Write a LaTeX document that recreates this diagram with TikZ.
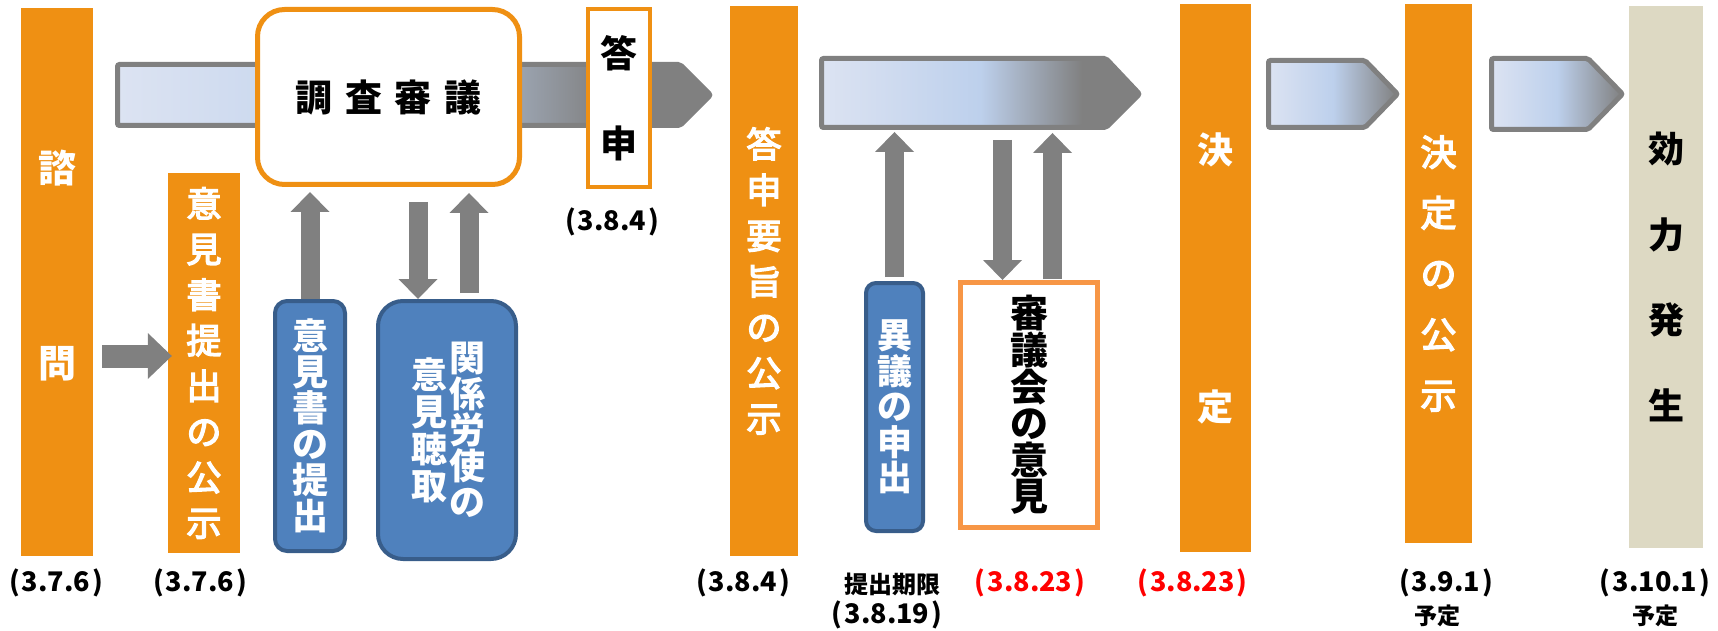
\documentclass[tikz,border=0pt]{standalone}
\usepackage{fontspec}
\setmainfont{Noto Sans CJK JP}
\newfontfamily\jpmid[FakeBold=4]{Noto Sans CJK JP}
\usetikzlibrary{arrows.meta}

\definecolor{barorange}{RGB}{239,144,19}
\definecolor{lightorange}{RGB}{247,150,70}
\definecolor{boxblue}{RGB}{79,129,189}
\definecolor{boxblueline}{RGB}{56,93,138}
\definecolor{arrowgray}{RGB}{128,128,128}
\definecolor{beige}{RGB}{221,217,195}
\definecolor{flowlight}{RGB}{220,227,242}
\definecolor{flowblue}{RGB}{189,208,236}
\definecolor{datered}{RGB}{255,0,0}

\pgfdeclarehorizontalshading{flowlong}{100bp}{color(0bp)=(flowlight); color(25bp)=(flowlight); color(50bp)=(flowblue); color(66bp)=(arrowgray); color(100bp)=(arrowgray)}
\pgfdeclarehorizontalshading{flowshort}{100bp}{color(0bp)=(flowlight); color(25bp)=(flowlight); color(50bp)=(flowblue); color(75bp)=(arrowgray); color(100bp)=(arrowgray)}

\newcommand{\fsz}[2]{\fontsize{#1}{#2}\selectfont\lineskiplimit=-100pt}
\newcommand{\dt}[1]{(\kern2pt#1\kern2pt)}

\begin{document}
\begin{tikzpicture}
[x=1pt,y=-1pt,
  bar/.style={fill=barorange,inner sep=0pt,text=white,align=center},%
  bluebox/.style={fill=boxblue,draw=boxblueline,line width=4pt,inner sep=0pt,text=white,align=center},%
  whitebox/.style={fill=white,line width=5pt,inner sep=0pt,align=center},%
  flow/.style={draw=arrowgray,line width=5pt,rounded corners=2pt},%
  updown/.style={draw=arrowgray,line width=19pt,-{Triangle[width=39pt,length=20pt,line width=0pt]}},%
  sidearrow/.style={draw=arrowgray,line width=23pt,-{Triangle[width=46pt,length=24pt,line width=0pt]}},%
  datelabel/.style={font=\bfseries\fsz{27}{30},inner sep=0pt}]
\useasboundingbox (0,0) rectangle (1718,631);
% flow arrows
\shadedraw[flow,shading=flowlong] (117.5,64.5) -- (680,64.5) -- (710.5,95) -- (680,125.5) -- (117.5,125.5) -- cycle;
\shadedraw[flow,shading=flowlong] (821.5,58.5) -- (1106,58.5) -- (1139.5,94) -- (1106,127.5) -- (821.5,127.5) -- cycle;
\shadedraw[flow,shading=flowshort] (1268.5,60.5) -- (1365,60.5) -- (1397.5,94) -- (1365,127.5) -- (1268.5,127.5) -- cycle;
\shadedraw[flow,shading=flowshort] (1491.5,58.5) -- (1588,58.5) -- (1622.5,94) -- (1588,129.5) -- (1491.5,129.5) -- cycle;
\coordinate (flow2-b) at (980,130);
% bars
\node[bar,minimum width=72,minimum height=548] (shimon) at (57,282) {};
\node[text=white,align=center,inner sep=0pt,font=\bfseries\fsz{38}{195}] (shimon-t) at (57,265.5) {諮\\問};
\node[bar,minimum width=72,minimum height=380,font=\jpmid\fsz{35}{45.6}] (koji1) at (204,363) {意\\見\\書\\提\\出\\の\\公\\示};
\node[bar,minimum width=68,minimum height=550,font=\jpmid\fsz{35}{45.7}] (yoshi) at (764,281) {答\\申\\要\\旨\\の\\公\\示};
\node[bar,minimum width=71,minimum height=548,font=\bfseries\fsz{36}{257}] (kettei) at (1215.5,278) {決\\定};
\node[bar,minimum width=67,minimum height=539,font=\jpmid\fsz{36}{60.75}] (koji2) at (1438.5,273.5) {決\\定\\の\\公\\示};
\node[bar,fill=beige,text=black,minimum width=74,minimum height=542,font=\bfseries\fsz{36}{85.7}] (koryoku) at (1666,277) {効\\力\\発\\生};
% boxes
\node[whitebox,draw=barorange,rounded corners=27pt,minimum width=262,minimum height=175,font=\bfseries\fsz{37}{40}] (chosa) at (388.5,97) {調\hspace{12.6pt}査\hspace{12.6pt}審\hspace{12.6pt}議};
\node[whitebox,draw=barorange,line width=4pt,minimum width=62,minimum height=178,font=\bfseries\fsz{37}{90}] (toshin) at (619,98) {答\\申};
\node[whitebox,draw=lightorange,minimum width=137,minimum height=245,font=\bfseries\fsz{38}{36.6}] (shingikai) at (1029,405) {審\\議\\会\\の\\意\\見};
\node[bluebox,rounded corners=12pt,minimum width=70,minimum height=250,font=\bfseries\fsz{36}{36}] (iken) at (310,426) {意\\見\\書\\の\\提\\出};
\node[bluebox,rounded corners=25pt,minimum width=138,minimum height=258] (kankei) at (447,430) {};
\node[text=white,align=center,inner sep=0pt,font=\bfseries\fsz{36}{36}] (kankei-r) at (467,430) {関\\係\\労\\使\\の};
\node[text=white,align=center,inner sep=0pt,font=\bfseries\fsz{36}{37}] (kankei-l) at (429,430) {意\\見\\聴\\取};
\node[bluebox,rounded corners=10pt,minimum width=57,minimum height=248,font=\bfseries\fsz{35}{35.5}] (igi) at (894.5,407) {異\\議\\の\\申\\出};
% dates
\node[datelabel] (d-shimon) at (56,583) {\dt{3.7.6}};
\node[datelabel] (d-koji1) at (200,583) {\dt{3.7.6}};
\node[datelabel] (d-toshin) at (612,222) {\dt{3.8.4}};
\node[datelabel] (d-yoshi) at (743,583) {\dt{3.8.4}};
\node[inner sep=0pt,font=\bfseries\fsz{24}{26}] (d-kigen) at (892,584) {提出期限};
\node[datelabel] (d-igi) at (887,615) {\dt{3.8.19}};
\node[datelabel,text=datered] (d-shingi) at (1030,583) {\dt{3.8.23}};
\node[datelabel,text=datered] (d-kettei) at (1192.5,583) {\dt{3.8.23}};
\node[datelabel] (d-koji2) at (1446,583) {\dt{3.9.1}};
\node[inner sep=0pt,font=\bfseries\fsz{23}{25}] (d-yotei1) at (1437,616) {予定};
\node[datelabel] (d-koryoku) at (1655,583) {\dt{3.10.1}};
\node[inner sep=0pt,font=\bfseries\fsz{23}{25}] (d-yotei2) at (1655.5,616) {予定};
% block arrows
\draw[sidearrow,shorten <=9pt,shorten >=-4pt] ([yshift=7pt]shimon.east |- koji1.west) -- ([yshift=7pt]koji1.west);
\draw[updown,shorten >=5pt] (iken.north) -- (iken.north |- chosa.south);
\draw[updown,shorten <=15pt] ([xshift=-29pt]kankei.north |- chosa.south) -- ([xshift=-29pt]kankei.north);
\draw[updown,shorten <=6pt,shorten >=6pt] ([xshift=22pt]kankei.north) -- ([xshift=22pt]kankei.north |- chosa.south);
\draw[updown,shorten <=4pt,shorten >=2pt] (igi.north) -- (igi.north |- flow2-b);
\draw[updown,shorten <=10pt] ([xshift=-26.5pt]shingikai.north |- flow2-b) -- ([xshift=-26.5pt]shingikai.north);
\draw[updown,shorten <=1pt,shorten >=3pt] ([xshift=23.5pt]shingikai.north) -- ([xshift=23.5pt]shingikai.north |- flow2-b);
\end{tikzpicture}
\end{document}
